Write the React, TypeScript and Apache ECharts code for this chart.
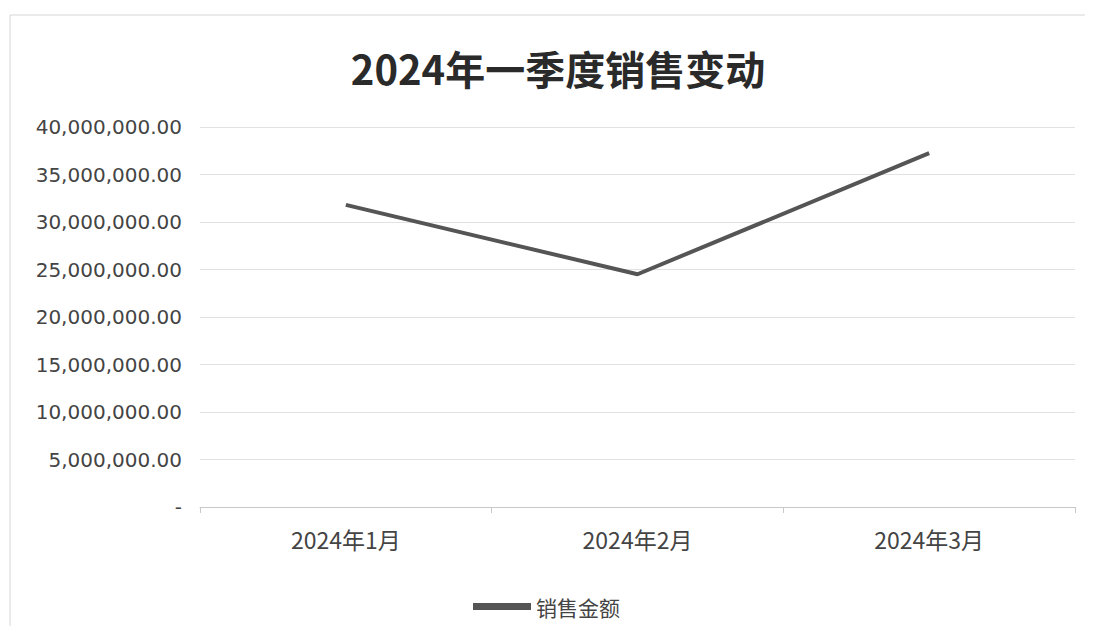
import React, { useEffect, useRef } from "react";
import * as echarts from "echarts";

const title = "2024年一季度销售变动";
const categories = ["2024年1月", "2024年2月", "2024年3月"];
const seriesName = "销售金额";
const salesValues = [31800000, 24500000, 37250000];

function fmt(v: number): string {
  if (v === 0) return "-";
  return v.toLocaleString("en-US", { minimumFractionDigits: 2, maximumFractionDigits: 2 });
}

export default function App() {
  const ref = useRef<HTMLDivElement>(null);
  useEffect(() => {
    const chart = echarts.init(ref.current!, undefined, { renderer: "svg" });
    chart.setOption({
      animation: false,
      backgroundColor: "#ffffff",
      graphic: [
        {
          type: "rect",
          shape: { x: 10, y: 15, width: 1100, height: 640 },
          style: { fill: "none", stroke: "#d6d6d6", lineWidth: 1 },
        },
        {
          type: "text",
          x: 558,
          y: 68,
          style: {
            text: title,
            align: "center",
            verticalAlign: "middle",
            fontFamily: "'Noto Sans CJK SC', sans-serif",
            fontWeight: "bold",
            fontSize: 40,
            fill: "#2a2a2a",
          },
        },
      ],
      legend: {
        bottom: 12,
        left: 468,
        itemWidth: 58,
        itemHeight: 7,
        itemGap: 4,
        icon: "rect",
        textStyle: {
          fontFamily: "'Noto Sans CJK SC', serif",
          fontSize: 21,
          color: "#444",
        },
        data: [seriesName],
      },
      grid: { left: 200, right: 18, top: 127, bottom: 127 },
      xAxis: {
        type: "category",
        data: categories,
        boundaryGap: true,
        axisLine: { lineStyle: { color: "#c8c8c8", width: 1 } },
        axisTick: { show: true, length: 6, lineStyle: { color: "#c8c8c8" } },
        axisLabel: {
          fontFamily: "'Noto Sans CJK SC', sans-serif",
          fontSize: 23,
          color: "#444",
          margin: 20,
        },
      },
      yAxis: {
        type: "value",
        min: 0,
        max: 40000000,
        interval: 5000000,
        axisLine: { show: false },
        axisTick: { show: false },
        splitLine: { lineStyle: { color: "#e2e2e2", width: 1 } },
        axisLabel: {
          formatter: (v: number) => fmt(v),
          fontFamily: "'DejaVu Sans', sans-serif",
          fontSize: 20,
          color: "#444",
          margin: 18,
        },
      },
      series: [
        {
          name: seriesName,
          type: "line",
          data: salesValues,
          symbol: "none",
          lineStyle: { color: "#555555", width: 4 },
          itemStyle: { color: "#555555" },
        },
      ],
    });
    return () => chart.dispose();
  }, []);
  return <div ref={ref} style={{ width: 1093, height: 634, margin: -8 }} />;
}
